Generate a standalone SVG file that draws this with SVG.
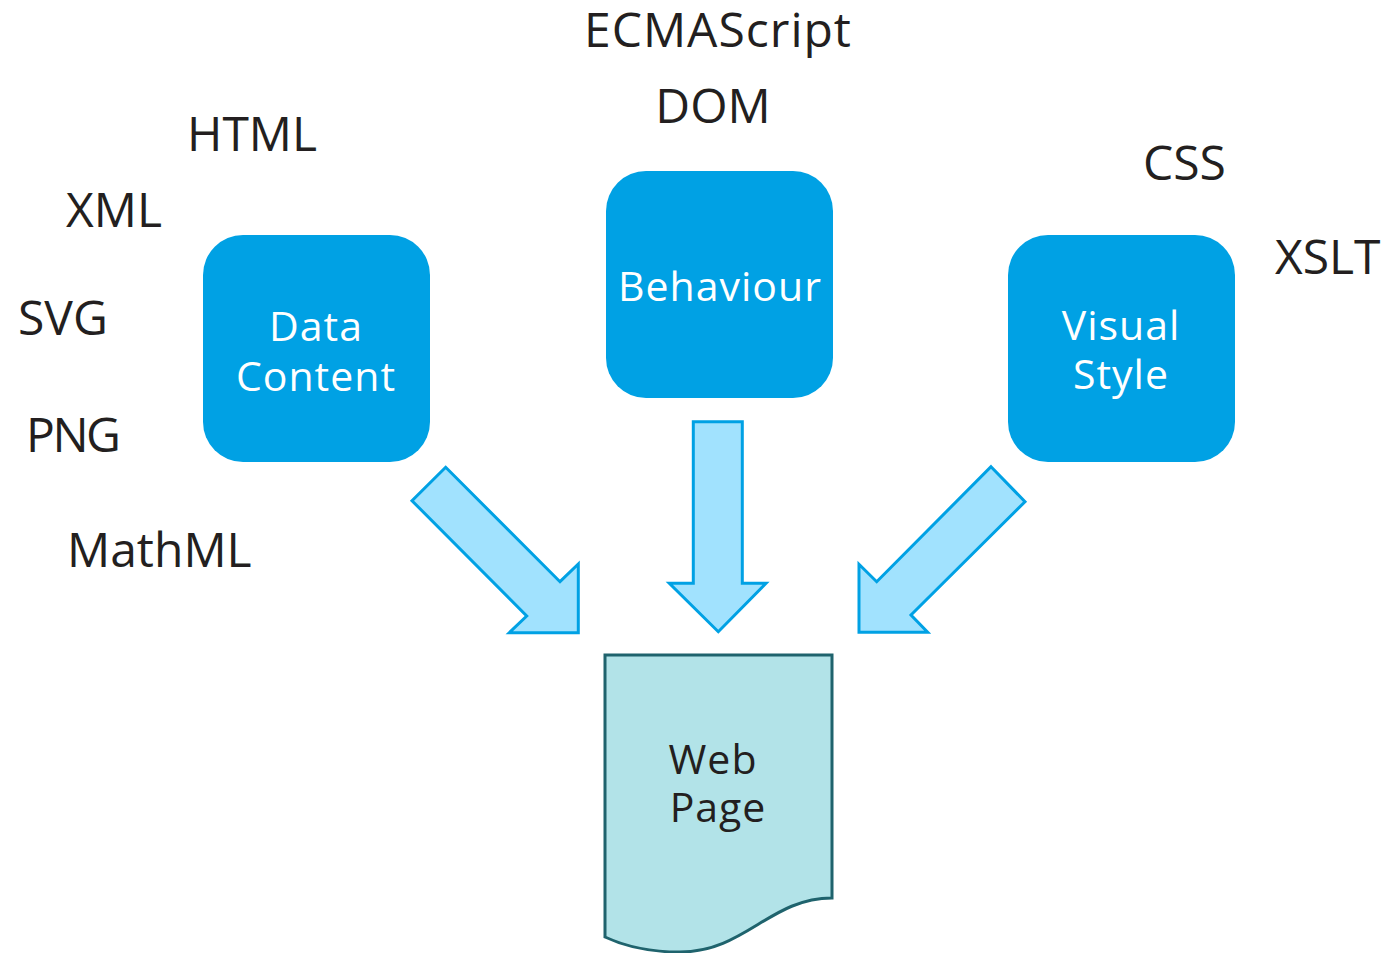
<svg xmlns="http://www.w3.org/2000/svg" width="1394" height="953" viewBox="0 0 1394 953">
<style>
.lbl{font-family:"Open Sans","DejaVu Sans",sans-serif;font-size:48px;fill:#231f20}
.box{fill:#00a1e4}
.bt{font-family:"Open Sans","DejaVu Sans",sans-serif;font-size:41px;fill:#ffffff;text-anchor:middle;letter-spacing:1px}
.arr{fill:#a1e2fe;stroke:#00a1e4;stroke-width:3;stroke-linejoin:miter}
.doc{fill:#b2e3e8;stroke:#1f636d;stroke-width:3}
.dt{font-family:"Open Sans","DejaVu Sans",sans-serif;font-size:41px;fill:#231f20;text-anchor:middle;letter-spacing:1px}
</style>
<rect width="1394" height="953" fill="#ffffff"/>
<g id="labels">
<text class="lbl" x="718" y="47" text-anchor="middle" letter-spacing="1">ECMAScript</text>
<text class="lbl" x="713" y="123" text-anchor="middle">DOM</text>
<text class="lbl" x="187" y="151">HTML</text>
<text class="lbl" x="66" y="227">XML</text>
<text class="lbl" x="18" y="335">SVG</text>
<text class="lbl" x="26" y="452" textLength="95">PNG</text>
<text class="lbl" x="67" y="567">MathML</text>
<text class="lbl" x="1143" y="180">CSS</text>
<text class="lbl" x="1275" y="274">XSLT</text>
</g>
<g id="data-content">
<rect class="box" x="203" y="235" width="227" height="227" rx="40"/>
<text class="bt" x="316" y="341">Data</text>
<text class="bt" x="316" y="391">Content</text>
</g>
<g id="behaviour">
<rect class="box" x="606" y="171" width="227" height="227" rx="40"/>
<text class="bt" x="720" y="301">Behaviour</text>
</g>
<g id="visual-style">
<rect class="box" x="1008" y="235" width="227" height="227" rx="40"/>
<text class="bt" x="1121" y="340">Visual</text>
<text class="bt" x="1121" y="389">Style</text>
</g>
<g id="connectors">
<polygon class="arr" points="445.7,467.3 412,500.7 526.7,616 509.3,632.7 578.3,632.7 578.3,564 560,581.7"/>
<polygon class="arr" points="693.3,421.7 742.3,421.7 742.3,583.3 766,583.3 718.3,631.7 669.3,583.3 693.3,583.3"/>
<polygon class="arr" points="991,466.7 1025,501.7 911,615 927.7,632.3 859,632.3 859,564.3 876.7,581.7"/>
</g>
<g id="web-page">
<path class="doc" d="M605,655 H832 V898 C770,898 745,952 680,952 C645,952 622,945 605,937 Z"/>
<text class="dt" x="713" y="774">Web</text>
<text class="dt" x="718" y="822">Page</text>
</g>
</svg>
